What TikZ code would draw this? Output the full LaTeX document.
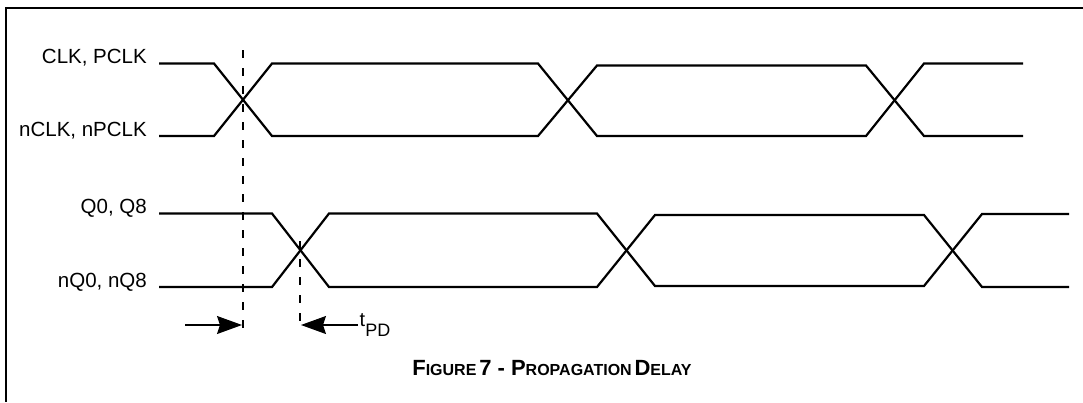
\documentclass[tikz,border=0pt]{standalone}
\usepackage{fontspec}
\setmainfont{Liberation Sans}
\usetikzlibrary{arrows.meta}
\tikzset{
  wave/.style={line width=2.2pt, line join=miter},
  frame/.style={line width=2pt},
  guide/.style={line width=1.1pt, dash pattern=on 8pt off 10pt},
  dimarrow/.style={line width=1.1pt, -{Stealth[length=25pt,width=18pt,inset=3pt]}},
  lbl/.style={anchor=base east, inner sep=0pt, font=\fontsize{20.5}{22}\selectfont},
}
\newcommand{\bigc}[1]{{\fontsize{22}{24}\selectfont #1}}
\newcommand{\smc}[1]{{\fontsize{16}{18}\selectfont #1}}
\begin{document}
\begin{tikzpicture}[x=1pt,y=-1pt]
\useasboundingbox (0,0) rectangle (1083,402);
% frame
\draw[frame] (1083,7.5) -- (5.5,7.5) -- (5.5,402);
% labels
\node[lbl] (clk) at (147,63) {CLK, PCLK};
\node[lbl] (nclk) at (147,136.5) {nCLK, nPCLK};
\node[lbl] (q) at (147,213) {Q0, Q8};
\node[lbl] (nq) at (147,287.5) {nQ0, nQ8};
% CLK waveforms
\draw[wave] (159,63.5) -- (214,63.5) -- (272,136) -- (538,136) -- (597,65.5) -- (866,65.5) -- (924,136) -- (1023,136);
\draw[wave] (159,136) -- (214,136) -- (272,63.5) -- (538,63.5) -- (597,136) -- (866,136) -- (924,63.5) -- (1023,63.5);
% Q waveforms
\draw[wave] (159,213.5) -- (272,213.5) -- (329,287) -- (597,287) -- (655,215) -- (924,215) -- (982,287) -- (1069,287);
\draw[wave] (159,287) -- (272,287) -- (329,213.5) -- (597,213.5) -- (655,286) -- (924,286) -- (982,214) -- (1069,214);
% guides
\coordinate (g1t) at (243,50);
\coordinate (g1b) at (243,333);
\coordinate (g2t) at (300,241);
\coordinate (g2b) at (300,328);
\draw[guide] (g1t) -- (g1b);
\draw[guide] (g2t) -- (g2b);
% delay arrows
\coordinate (a1s) at (185,325);
\coordinate (a1e) at (242,325);
\coordinate (a2s) at (358,325);
\coordinate (a2e) at (301,325);
\draw[dimarrow] (a1s) -- (a1e);
\draw[dimarrow] (a2s) -- (a2e);
\node[anchor=base west, inner sep=0pt, font=\fontsize{20}{22}\selectfont] (tpd) at (359.5,326) {t\raisebox{-10pt}{\fontsize{18}{20}\selectfont PD}};
% caption
\node[anchor=base, inner sep=0pt, font=\bfseries] (cap) at (552,375) {\bigc{F}\smc{IGURE} \bigc{7 - P}\smc{ROPAGATION} \bigc{D}\smc{ELAY}};
\end{tikzpicture}
\end{document}
